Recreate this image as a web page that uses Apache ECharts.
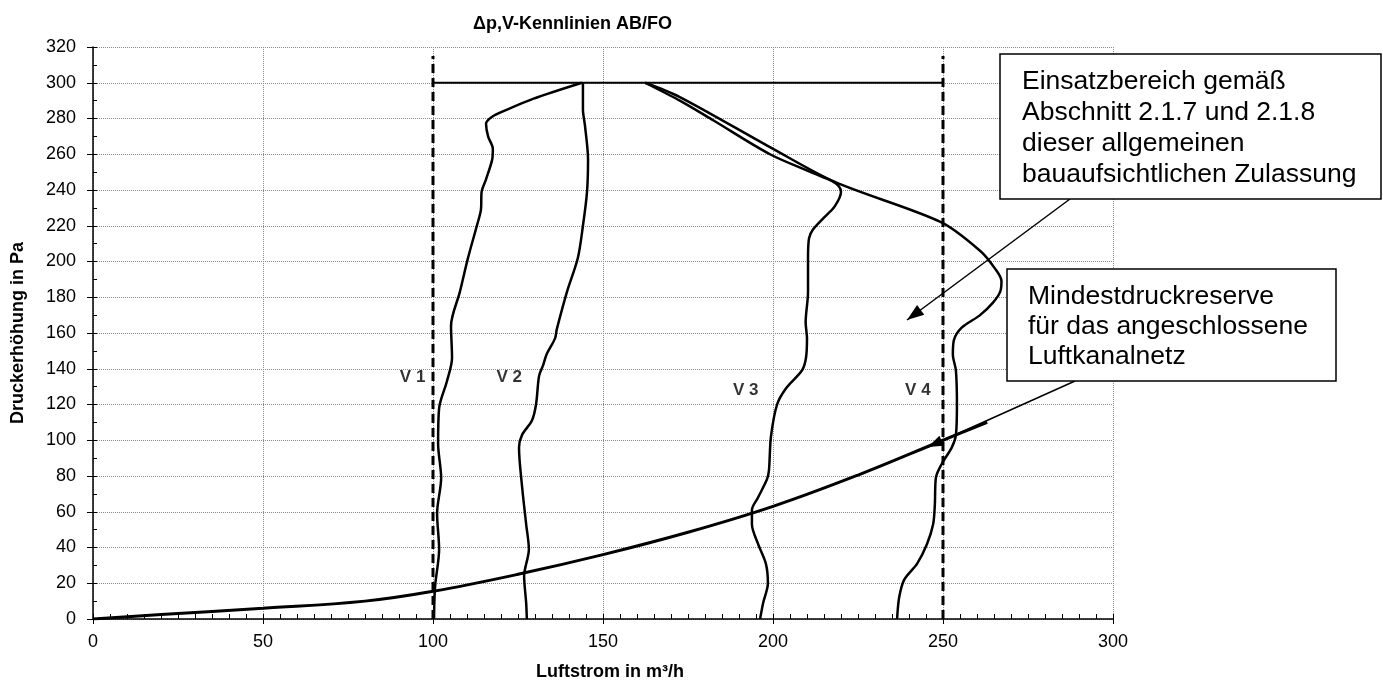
<!DOCTYPE html>
<html><head><meta charset="utf-8">
<script src="https://cdn.jsdelivr.net/npm/echarts@6/dist/echarts.min.js"></script>
<style>html,body{margin:0;padding:0;background:#fff}#c{width:1383px;height:686px}</style>
</head><body><div id="c"></div>
<script>
const titleText = 'Δp,V-Kennlinien AB/FO';
const xName = 'Luftstrom in m³/h';
const yName = 'Druckerhöhung in Pa';

const v1 = [[100.3,0],[100.6,18],[101.8,39],[101.2,59],[102.4,79],[101.5,98],[101.8,118],[104.1,133],[105.6,146],[105.3,164],[107.9,183],[110.3,202],[112.9,220],[114.1,229],[114.3,239],[115.6,246],[117.4,257],[117.6,263],[116.2,270],[115.6,277],[117.4,281],[121.8,285],[129.4,291],[143.8,300]];
const v2 = [[127.6,0],[127.4,9],[126.8,24],[128.2,39],[127.4,53],[126.2,74],[125.3,96],[126.2,103],[129.1,111],[130.3,120],[131.2,136],[132.4,142],[133.4,148],[135.9,157],[136.4,162],[139.4,183],[142.6,202],[144.1,220],[145.3,239],[145.6,257],[144.7,276],[144.1,285],[144.1,300]];
const v3 = [[196.2,0],[197.1,9],[198.5,20],[197.9,31],[195.6,42],[193.8,53],[193.8,61],[195.6,68],[198.2,78],[198.8,83],[199.4,102],[201.2,120],[203.8,129],[208.5,139],[209.7,146],[210,157],[209.6,166],[210.3,183],[210.3,202],[210.6,213],[211.8,218],[214.7,224],[218.2,231],[220,239],[219.4,242],[217.4,245],[211.8,249.5],[199.1,260],[182.4,279],[172.6,290],[162.4,300]];
const v4 = [[236.5,0],[237.1,12],[238.6,22],[242.4,31],[245.3,42],[247.1,53],[247.6,64],[247.9,79],[249.7,87],[252.6,96],[253.8,103],[254.1,120],[253.8,139],[252.9,148],[253.2,156],[255.5,163],[260.9,170],[264.7,177],[266.8,183],[267.2,189],[265.3,196],[260.9,206],[249.4,222],[218.2,244.5],[199.1,264],[172.6,292],[162.4,300]];
const topLine = [[100,300],[250,300]];
const limitV1 = [[100,0],[100,315]];
const limitV4 = [[250,0],[250,315]];
const systemCurve = [[0,0],[20,2.5],[50,6],[80,10],[100,15.5],[125,25],[150,36],[175,48.5],[200,63],[225,80.5],[250,100],[263,110]];
const curveLabels = ['V 1','V 2','V 3','V 4'];
const labelAnchors = [[94,135],[122.4,135],[192,128],[242.6,128]];
const box1Lines = ['Einsatzbereich gemäß','Abschnitt 2.1.7 und 2.1.8','dieser allgemeinen','bauaufsichtlichen Zulassung'];
const box2Lines = ['Mindestdruckreserve','für das angeschlossene','Luftkanalnetz'];

const FONT = "'Liberation Sans', Arial, sans-serif";
const chart = echarts.init(document.getElementById('c'), null, {renderer:'canvas'});

function curve(name, data, w, extra) {
  return Object.assign({
    name, type:'line', data, showSymbol:false, symbol:'none', smooth:0.3,
    lineStyle:{color:'#000', width:w}, z:3, animation:false, silent:true
  }, extra || {});
}

function arrowHead(x1,y1,x2,y2,len,half){
  const dx=x2-x1, dy=y2-y1, L=Math.hypot(dx,dy), ux=dx/L, uy=dy/L;
  const bx=x2-ux*len, by=y2-uy*len;
  return [[x2,y2],[bx-uy*half,by+ux*half],[bx+uy*half,by-ux*half]];
}

const tip1 = [907,320], from1 = [1070,199];
const tip2 = [928,447], from2 = [1075,381];

const option = {
  animation:false,
  backgroundColor:'#fff',
  title:{text:titleText, left:473, top:15, padding:0,
    textStyle:{fontFamily:FONT, fontWeight:'bold', fontSize:18, color:'#000'}},
  grid:{left:93, right:270, top:47, bottom:63, containLabel:false},
  xAxis:[{
    type:'value', min:0, max:300, interval:50, position:'bottom',
    name:xName, nameLocation:'middle', nameGap:44,
    nameTextStyle:{fontFamily:FONT, fontWeight:'bold', fontSize:18, color:'#000', padding:[0,0,0,14]},
    axisLine:{show:true, onZero:false, lineStyle:{color:'#000', width:1.5}},
    axisTick:{show:true, inside:false, length:5, lineStyle:{color:'#000'}},
    axisLabel:{fontFamily:FONT, fontSize:18, color:'#000', margin:14},
    splitLine:{show:true, lineStyle:{color:'#8a8a8a', width:1, type:'dotted'}}
  },{
    type:'value', min:0, max:300, interval:5, position:'bottom',
    axisLine:{show:false}, axisTick:{show:true, inside:true, length:5, lineStyle:{color:'#000'}},
    axisLabel:{show:false}, splitLine:{show:false}
  }],
  yAxis:[{
    type:'value', min:0, max:320, interval:20, position:'left',
    name:yName, nameLocation:'middle', nameGap:66, nameRotate:90,
    nameTextStyle:{fontFamily:FONT, fontWeight:'bold', fontSize:18, color:'#000'},
    axisLine:{show:true, onZero:false, lineStyle:{color:'#000', width:1.5}},
    axisTick:{show:true, inside:false, length:6, lineStyle:{color:'#000'}},
    axisLabel:{fontFamily:FONT, fontSize:18, color:'#000', margin:17},
    splitLine:{show:true, lineStyle:{color:'#8a8a8a', width:1, type:'dotted'}}
  },{
    type:'value', min:0, max:320, interval:10, position:'left',
    axisLine:{show:false}, axisTick:{show:true, inside:true, length:4, lineStyle:{color:'#000'}},
    axisLabel:{show:false}, splitLine:{show:false}
  }],
  series:[
    curve('Begrenzung V1', limitV1, 3, {smooth:false, lineStyle:{color:'#000', width:3, type:[9,5]}}),
    curve('Begrenzung V4', limitV4, 3, {smooth:false, lineStyle:{color:'#000', width:3, type:[9,5]}}),
    curve('Obergrenze', topLine, 2, {smooth:false}),
    curve('V 1', v1, 2.5),
    curve('V 2', v2, 2.5),
    curve('V 3', v3, 2.5),
    curve('V 4', v4, 2.5),
    curve('Anlagenkennlinie', systemCurve, 3, {smooth:0.4}),
    {
      type:'scatter', symbolSize:1, silent:true, z:5,
      itemStyle:{color:'rgba(0,0,0,0)'},
      data: labelAnchors.map((p,i)=>({value:p, name:curveLabels[i]})),
      label:{show:true, position:'inside', formatter:p=>p.name,
        fontFamily:FONT, fontWeight:'bold', fontSize:17, color:'#000',
        textBorderWidth:0, textBorderColor:'transparent'}
    }
  ],
  graphic:[
    {type:'line', z:50, shape:{x1:from1[0], y1:from1[1], x2:tip1[0], y2:tip1[1]}, style:{stroke:'#000', lineWidth:1.5}},
    {type:'polygon', z:50, shape:{points:arrowHead(from1[0],from1[1],tip1[0],tip1[1],17,6)}, style:{fill:'#000'}},
    {type:'line', z:50, shape:{x1:from2[0], y1:from2[1], x2:tip2[0], y2:tip2[1]}, style:{stroke:'#000', lineWidth:1.5}},
    {type:'polygon', z:50, shape:{points:arrowHead(from2[0],from2[1],tip2[0],tip2[1],15,5.5)}, style:{fill:'#000'}},
    {type:'rect', z:60, shape:{x:1000, y:54, width:381, height:145}, style:{fill:'#fff', stroke:'#000', lineWidth:1.5}},
    {type:'text', z:61, style:{x:1022, y:66, text:box1Lines.join('\n'), fontFamily:FONT, fontSize:26.5, lineHeight:31, fill:'#000', verticalAlign:'top', align:'left'}},
    {type:'rect', z:60, shape:{x:1007, y:269, width:329, height:112}, style:{fill:'#fff', stroke:'#000', lineWidth:1.5}},
    {type:'text', z:61, style:{x:1028, y:282, text:box2Lines.join('\n'), fontFamily:FONT, fontSize:26.5, lineHeight:30, fill:'#000', verticalAlign:'top', align:'left'}}
  ]
};
chart.setOption(option);
</script></body></html>
